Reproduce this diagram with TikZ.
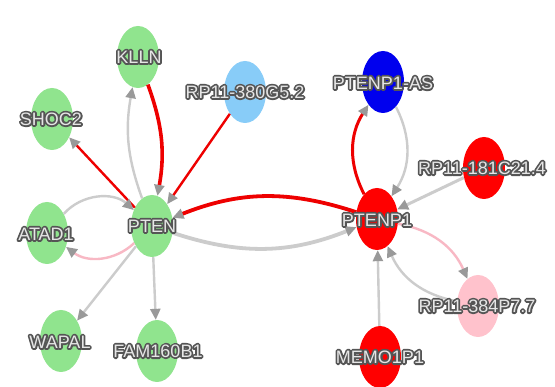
\documentclass[tikz,border=0pt]{standalone}
\usepackage{fontspec}
\setmainfont{Liberation Sans}
\newfontfamily\halofont{Liberation Sans}[FakeBold=20]
\usetikzlibrary{shapes.geometric,arrows.meta}
\definecolor{ngreen}{HTML}{90E48E}
\definecolor{nblue}{HTML}{0000EE}
\definecolor{nred}{HTML}{FF0000}
\definecolor{npink}{HTML}{FFC2CC}
\definecolor{nsky}{HTML}{88CCF8}
\definecolor{egray}{HTML}{CCCCCC}
\definecolor{ered}{HTML}{EE0000}
\definecolor{epink}{HTML}{F8B8C4}
\definecolor{tipgray}{HTML}{999999}
\definecolor{txtfill}{HTML}{E6E6E6}
\definecolor{txtline}{HTML}{555555}
\newcommand\lbl[1]{\pgfsetroundjoin\rlap{\halofont\color{txtline}#1}\textcolor{txtfill}{#1}}
\tikzset{
  gene/.style={ellipse, draw=none, minimum width=42pt, minimum height=62pt, inner sep=0pt},
  g/.style={gene, fill=ngreen},
  r/.style={gene, fill=nred},
  lab/.style={font=\fontsize{18}{18}\selectfont, inner sep=0pt, line join=round},
  edge/.style={-{Triangle[length=11pt,width=10pt,color=tipgray]}, line width=2.4pt},
  redge/.style={edge, draw=ered},
  gedge/.style={edge, draw=egray},
  pedge/.style={edge, draw=epink},
}
\begin{document}
\begin{tikzpicture}[x=1pt,y=-1pt]
\useasboundingbox (0,0) rectangle (555,387);
\fill[white] (0,0) rectangle (555,387);
% nodes
\node[g] (klln) at (138,57) {};
\node[g] (shoc2) at (52,119) {};
\node[gene, fill=nsky] (rp380) at (245,92) {};
\node[g] (pten) at (152,226) {};
\node[g] (atad1) at (47,233) {};
\node[g] (wapal) at (61,341) {};
\node[g] (fam) at (157,351) {};
\node[gene, fill=nblue] (ptenp1as) at (383,82) {};
\node[r] (rp181) at (484,168) {};
\node[r] (ptenp1) at (377,219) {};
\node[gene, fill=npink] (rp384) at (478,306) {};
\node[r] (memo) at (380,357) {};
% edges
\draw[redge, line width=3.6pt] (klln) to[bend left=15] (pten);
\draw[gedge] (pten) to[bend left=15] (klln);
\draw[redge] (pten) -- (shoc2);
\draw[redge] (rp380) -- (pten);
\draw[gedge] (atad1) to[bend left=45] (pten);
\draw[pedge] (pten) to[bend left=40] (atad1);
\draw[gedge] (pten) -- (wapal);
\draw[gedge] (pten) -- (fam);
\draw[redge, line width=3.8pt] (ptenp1) to[bend right=20] (pten);
\draw[gedge, line width=3.8pt] (pten) to[bend right=20] (ptenp1);
\draw[redge, line width=3pt] (ptenp1) to[bend left=30] (ptenp1as);
\draw[gedge] (ptenp1as) to[bend left=30] (ptenp1);
\draw[gedge, line width=3pt] (rp181) -- (ptenp1);
\draw[pedge] (ptenp1) to[bend left=28] (rp384);
\draw[gedge] (rp384) to[bend left=28] (ptenp1);
\draw[gedge] (memo) -- (ptenp1);
% labels
\node[lab] (klln-t) at (139,57) {\lbl{KLLN}};
\node[lab] (shoc2-t) at (51,119) {\lbl{SHOC2}};
\node[lab] (rp380-t) at (245,92) {\lbl{RP11-380G5.2}};
\node[lab] (pten-t) at (152,226) {\lbl{PTEN}};
\node[lab] (atad1-t) at (46,234) {\lbl{ATAD1}};
\node[lab] (wapal-t) at (60,342) {\lbl{WAPAL}};
\node[lab] (fam-t) at (158,351) {\lbl{FAM160B1}};
\node[lab] (ptenp1as-t) at (383,83) {\lbl{PTENP1-AS}};
\node[lab] (rp181-t) at (482,168) {\lbl{RP11-181C21.4}};
\node[lab] (ptenp1-t) at (377,220) {\lbl{PTENP1}};
\node[lab] (rp384-t) at (477,306) {\lbl{RP11-384P7.7}};
\node[lab] (memo-t) at (380,357) {\lbl{MEMO1P1}};
\end{tikzpicture}
\end{document}
